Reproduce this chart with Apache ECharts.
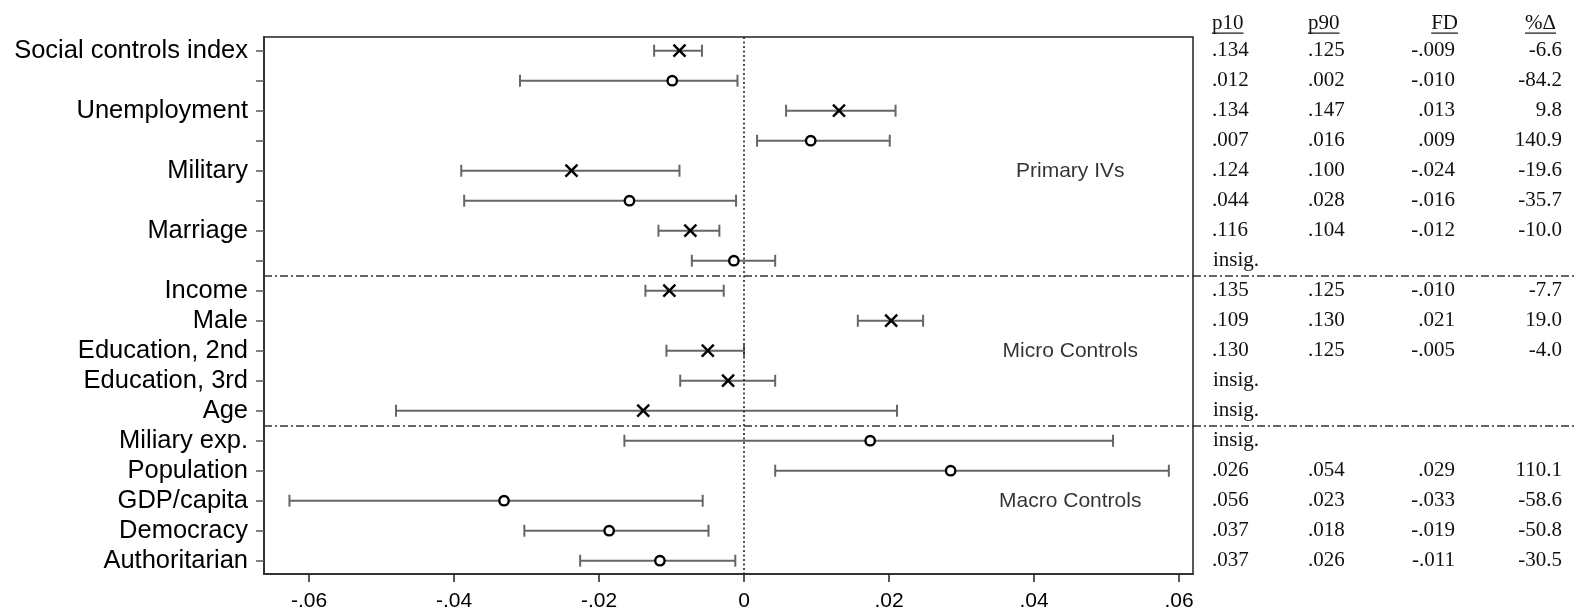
<!DOCTYPE html>
<html><head><meta charset="utf-8">
<script src="https://cdn.jsdelivr.net/npm/echarts@6/dist/echarts.min.js"></script>
<style>html,body{margin:0;padding:0;background:#fff}#c{width:1574px;height:614px}</style>
</head><body><div id="c"></div><script>
// ---- data ----
const rowLabels = ['Social controls index','','Unemployment','','Military','','Marriage','','Income','Male','Education, 2nd','Education, 3rd','Age','Miliary exp.','Population','GDP/capita','Democracy','Authoritarian'];
const markerType = ['x','o','x','o','x','o','x','o','x','x','x','x','x','o','o','o','o','o'];
const lower    = [-0.0124,-0.0309, 0.0058, 0.0018,-0.0390,-0.0386,-0.0118,-0.0072,-0.0136, 0.0157,-0.0107,-0.0088,-0.0480,-0.0165, 0.0043,-0.0627,-0.0303,-0.0226];
const estimate = [-0.0089,-0.0099, 0.0131, 0.0092,-0.0238,-0.0158,-0.0074,-0.0014,-0.0103, 0.0203,-0.0050,-0.0022,-0.0139, 0.0174, 0.0285,-0.0331,-0.0186,-0.0116];
const upper    = [-0.0058,-0.0009, 0.0209, 0.0201,-0.0089,-0.0011,-0.0034, 0.0043,-0.0028, 0.0247, 0.0000, 0.0043, 0.0211, 0.0509, 0.0586,-0.0057,-0.0049,-0.0012];
const p10 = [0.134,0.012,0.134,0.007,0.124,0.044,0.116,null,0.135,0.109,0.130,null,null,null,0.026,0.056,0.037,0.037];
const p90 = [0.125,0.002,0.147,0.016,0.100,0.028,0.104,null,0.125,0.130,0.125,null,null,null,0.054,0.023,0.018,0.026];
const fd  = [-0.009,-0.010,0.013,0.009,-0.024,-0.016,-0.012,null,-0.010,0.021,-0.005,null,null,null,0.029,-0.033,-0.019,-0.011];
const pctChange = [-6.6,-84.2,9.8,140.9,-19.6,-35.7,-10.0,null,-7.7,19.0,-4.0,null,null,null,110.1,-58.6,-50.8,-30.5];
const tableHeaders = ['p10','p90','FD','%\u0394'];
const xTicks = [-0.06,-0.04,-0.02,0,0.02,0.04,0.06];
const groupNotes = [[0.045,4,'Primary IVs'],[0.045,10,'Micro Controls'],[0.045,15,'Macro Controls']];
const separators = [7.5, 12.5];

// ---- helpers ----
const rows = rowLabels.map((_, i) => i);
const f3 = v => (v < 0 ? '-' : '') + Math.abs(v).toFixed(3).replace(/^0/, '');
const fTick = v => Math.abs(v) < 1e-9 ? '0' : (v < 0 ? '-' : '') + Math.abs(v).toFixed(2).replace(/^0/, '');
const serif = '21px "Liberation Serif", "Times New Roman", serif';
const measure = (() => { const c = document.createElement('canvas').getContext('2d'); return (t, f) => { c.font = f; return c.measureText(t).width; }; })();
const sepLine = { type: [8, 3, 2, 3], color: '#333', width: 1.5 };

const chart = echarts.init(document.getElementById('c'), null, { renderer: 'canvas' });
chart.setOption({
  animation: false,
  backgroundColor: '#fff',
  grid: [
    { left: 264, top: 37, right: 381, bottom: 40, show: true, borderColor: '#222', borderWidth: 1.5, containLabel: false },
    { left: 1193, top: 37, right: 0, bottom: 40, show: false, containLabel: false }
  ],
  xAxis: [
    { type: 'value', gridIndex: 0, min: -0.06621, max: 0.06193,
      axisLine: { show: true, onZero: false, lineStyle: { color: '#333', width: 2 } },
      axisTick: { show: true, length: 8, customValues: xTicks, lineStyle: { color: '#222', width: 1.5 } },
      axisLabel: { customValues: xTicks, formatter: fTick, fontSize: 21, color: '#000', fontFamily: '"Liberation Sans", Arial, sans-serif', margin: 17 },
      splitLine: { show: false } },
    { type: 'value', gridIndex: 1, min: 0, max: 381, show: false }
  ],
  yAxis: [
    { type: 'value', gridIndex: 0, inverse: true, min: -0.457, max: 17.443,
      axisLine: { show: true, onZero: false, lineStyle: { color: '#333', width: 2 } },
      axisTick: { show: true, length: 8, customValues: rows, lineStyle: { color: '#555', width: 1.5 } },
      axisLabel: { customValues: rows, formatter: v => rowLabels[Math.round(v)] || '', fontSize: 25.5, color: '#000', fontFamily: '"Liberation Sans", Arial, sans-serif', margin: 16 },
      splitLine: { show: false } },
    { type: 'value', gridIndex: 1, inverse: true, min: -0.457, max: 17.443, show: false }
  ],
  series: [
    { type: 'custom', xAxisIndex: 0, yAxisIndex: 0, clip: false,
      data: rows.map(i => [lower[i], estimate[i], upper[i], i, markerType[i] === 'x' ? 1 : 0]),
      encode: { x: [0, 1, 2], y: 3 },
      renderItem(params, api) {
        const r = api.value(3);
        const lo = api.coord([api.value(0), r]);
        const hi = api.coord([api.value(2), r]);
        const c = api.coord([api.value(1), r]);
        const bar = { stroke: '#666', lineWidth: 2 };
        const cap = 6;
        const ch = [
          { type: 'line', shape: { x1: lo[0], y1: lo[1], x2: hi[0], y2: hi[1] }, style: bar },
          { type: 'line', shape: { x1: lo[0], y1: lo[1] - cap, x2: lo[0], y2: lo[1] + cap }, style: bar },
          { type: 'line', shape: { x1: hi[0], y1: hi[1] - cap, x2: hi[0], y2: hi[1] + cap }, style: bar }
        ];
        if (api.value(4) === 1) {
          const s = 6, st = { stroke: '#000', lineWidth: 2.4 };
          ch.push({ type: 'line', shape: { x1: c[0] - s, y1: c[1] - s, x2: c[0] + s, y2: c[1] + s }, style: st });
          ch.push({ type: 'line', shape: { x1: c[0] - s, y1: c[1] + s, x2: c[0] + s, y2: c[1] - s }, style: st });
        } else {
          ch.push({ type: 'circle', shape: { cx: c[0], cy: c[1], r: 4.7 }, style: { fill: '#fff', stroke: '#000', lineWidth: 2.4 } });
        }
        return { type: 'group', children: ch };
      },
      markLine: { silent: true, symbol: 'none', label: { show: false }, animation: false,
        data: [
          { xAxis: 0, lineStyle: { type: [2, 2.5], color: '#222', width: 1.6 } },
          ...separators.map(s => ({ yAxis: s, lineStyle: sepLine }))
        ] }
    },
    { type: 'scatter', xAxisIndex: 0, yAxisIndex: 0, symbolSize: 0, silent: true,
      data: groupNotes,
      label: { show: true, position: 'inside', formatter: p => p.data[2], fontSize: 21, color: '#000', fontFamily: '"Liberation Sans", Arial, sans-serif' } },
    { type: 'custom', xAxisIndex: 1, yAxisIndex: 1, clip: false,
      data: rows.map(i => [0, i]),
      encode: { x: 0, y: 1 },
      renderItem(params, api) {
        const i = params.dataIndex;
        const y = api.coord([0, i])[1];
        const X = v => api.coord([v, i])[0];
        const ch = [];
        const t = (text, x, align) => ch.push({ type: 'text', style: { text, x, y, align, verticalAlign: 'middle', font: serif, fill: '#111' } });
        if (p10[i] === null) {
          t('insig.', X(20), 'left');
        } else {
          t(f3(p10[i]), X(19), 'left');
          t(f3(p90[i]), X(115), 'left');
          t(f3(fd[i]), X(262), 'right');
          t(pctChange[i].toFixed(1), X(369), 'right');
        }
        return { type: 'group', children: ch };
      },
      markLine: { silent: true, symbol: 'none', label: { show: false }, animation: false,
        data: separators.map(s => ({ yAxis: s, lineStyle: sepLine })) }
    },
    { type: 'custom', xAxisIndex: 1, yAxisIndex: 1, clip: false,
      data: [[0, -0.92]],
      encode: { x: 0, y: 1 },
      renderItem(params, api) {
        const y = api.coord([0, api.value(1)])[1];
        const spec = [[tableHeaders[0], 19, 'left'], [tableHeaders[1], 115, 'left'], [tableHeaders[2], 265, 'right'], [tableHeaders[3], 363, 'right']];
        const ch = [];
        spec.forEach(([text, v, align]) => {
          const x = api.coord([v, 0])[0];
          const w = measure(text, serif);
          const x0 = align === 'left' ? x : x - w;
          ch.push({ type: 'text', style: { text, x, y, align, verticalAlign: 'middle', font: serif, fill: '#111' } });
          ch.push({ type: 'line', shape: { x1: x0, y1: y + 10, x2: x0 + w, y2: y + 10 }, style: { stroke: '#111', lineWidth: 1.2 } });
        });
        return { type: 'group', children: ch };
      }
    }
  ]
});
</script></body></html>
